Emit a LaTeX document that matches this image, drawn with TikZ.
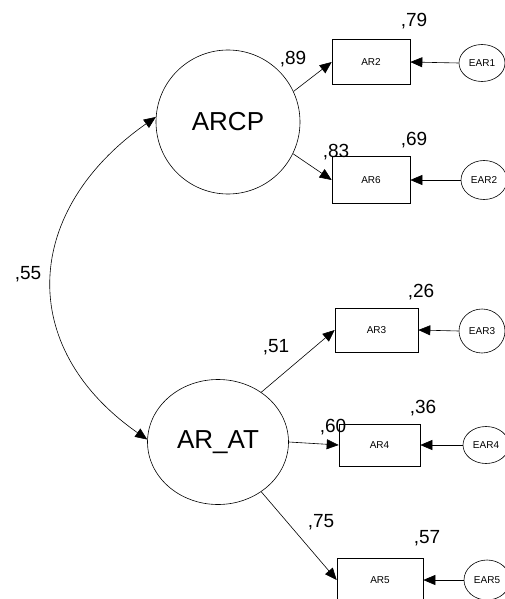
\documentclass[tikz,border=0pt]{standalone}
\usepackage{fontspec}
\setmainfont{Liberation Sans}
\usetikzlibrary{arrows.meta,shapes.geometric}
\begin{document}
\begin{tikzpicture}[x=1pt,y=-1pt,
  lat/.style={draw,ellipse,line width=0.6pt,inner sep=0pt,font=\fontsize{26}{28}\selectfont},
  obs/.style={draw,rectangle,line width=0.6pt,inner sep=0pt,font=\fontsize{10}{12}\selectfont},
  err/.style={draw,ellipse,line width=0.6pt,inner sep=0pt,minimum width=46pt,font=\fontsize{10}{12}\selectfont},
  coef/.style={anchor=base,inner sep=0pt,font=\fontsize{19}{21}\selectfont},
  arr/.style={line width=0.6pt,-{Triangle[length=12pt,width=10pt]}},
  darr/.style={line width=0.6pt,{Triangle[length=12pt,width=10pt]}-{Triangle[length=12pt,width=10pt]}}
]
\useasboundingbox (0,0) rectangle (505,599);
% latent variables
\node[lat,minimum width=144pt,minimum height=144pt] (ARCP) at (228,122) {ARCP};
\node[lat,minimum width=141pt,minimum height=125pt] (ARAT) at (218,442) {AR\_AT};
% observed
\node[obs,minimum width=78pt,minimum height=45pt] (AR2) at (371,62) {AR2};
\node[obs,minimum width=78pt,minimum height=47pt] (AR6) at (371,180) {AR6};
\node[obs,minimum width=83pt,minimum height=44pt] (AR3) at (376.5,330) {AR3};
\node[obs,minimum width=81pt,minimum height=42pt] (AR4) at (379.5,445) {AR4};
\node[obs,minimum width=86pt,minimum height=44pt] (AR5) at (380,580) {AR5};
% errors
\node[err,minimum height=37pt] (EAR1) at (482,63) {EAR1};
\node[err,minimum height=39pt] (EAR2) at (484,180) {EAR2};
\node[err,minimum height=44pt] (EAR3) at (482,331) {EAR3};
\node[err,minimum height=37pt] (EAR4) at (486,445) {EAR4};
\node[err,minimum height=40pt] (EAR5) at (487,580) {EAR5};
% loadings
\draw[arr] (ARCP.25) -- (AR2.west);
\draw[arr] (ARCP.-26) -- (AR6.west);
\draw[arr] (ARAT.49) -- (AR3.west);
\draw[arr] (ARAT.east) -- (AR4.west);
\draw[arr] (ARAT.-49) -- (AR5.west);
% error arrows
\draw[arr] (EAR1.west) -- (AR2.east);
\draw[arr] (EAR2.west) -- (AR6.east);
\draw[arr] (EAR3.west) -- (AR3.east);
\draw[arr] (EAR4.west) -- (AR4.east);
\draw[arr] (EAR5.west) -- (AR5.east);
% covariance
\draw[darr] (ARCP.176) to[out=215,in=145,looseness=1.28] (ARAT.178);
% coefficients
\node[coef] (c89) at (293,65) {,89};
\node[coef] (c79) at (414,27) {,79};
\node[coef] (c83) at (336,157) {,83};
\node[coef] (c69) at (414,145) {,69};
\node[coef] (c55) at (28,279) {,55};
\node[coef] (c51) at (276,352) {,51};
\node[coef] (c26) at (421,297) {,26};
\node[coef] (c36) at (423,413) {,36};
\node[coef] (c60) at (333,432) {,60};
\node[coef] (c75) at (321,527) {,75};
\node[coef] (c57) at (427,543) {,57};
\end{tikzpicture}
\end{document}
